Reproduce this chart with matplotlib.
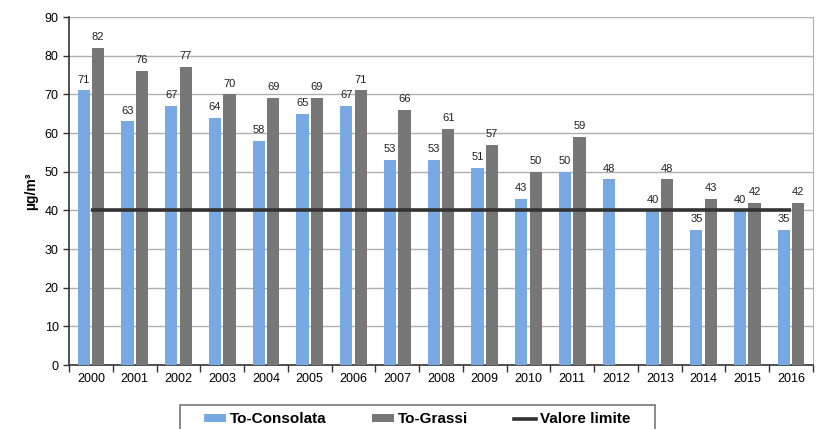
import matplotlib
matplotlib.use("Agg")
import matplotlib.pyplot as plt
import numpy as np
from matplotlib.patches import Patch, Rectangle
from matplotlib.lines import Line2D

plt.rcParams['font.family'] = ['Liberation Sans', 'DejaVu Sans']

years = ['2000', '2001', '2002', '2003', '2004', '2005', '2006', '2007', '2008',
         '2009', '2010', '2011', '2012', '2013', '2014', '2015', '2016']
consolata = [71, 63, 67, 64, 58, 65, 67, 53, 53, 51, 43, 50, 48, 40, 35, 40, 35]
grassi = [82, 76, 77, 70, 69, 69, 71, 66, 61, 57, 50, 59, None, 48, 43, 42, 42]
limit_value = 40

c_blue = '#79a9e3'
c_grey = '#777777'
c_line = '#333333'

W, H = 821, 429
fig = plt.figure(figsize=(W/100, H/100), dpi=100)
ax = fig.add_axes([69/W, (H-365)/H, (813-69)/W, (365-17)/H])

x = np.arange(len(years))
w = 0.28
gap = 0.025
for i in range(len(years)):
    v = consolata[i]
    if v is not None:
        ax.bar(x[i] - w/2 - gap, v, width=w, color=c_blue, zorder=3)
        ax.text(x[i] - w/2 - gap, v + 1.5, str(v), ha='center', va='bottom', fontsize=8, color='#222222', zorder=4)
    g = grassi[i]
    if g is not None:
        ax.bar(x[i] + w/2 + gap, g, width=w, color=c_grey, zorder=3)
        ax.text(x[i] + w/2 + gap, g + 1.5, str(g), ha='center', va='bottom', fontsize=8, color='#222222', zorder=4)

ax.plot([x[0], x[-1]], [limit_value, limit_value], color=c_line, lw=2.6, zorder=5, solid_capstyle='butt')

ax.set_xlim(-0.5, len(years) - 0.5)
ax.set_ylim(0, 90)
ax.set_yticks(range(0, 91, 10))
ax.yaxis.grid(True, color='#b0b0b0', lw=1.0, zorder=0)
ax.set_axisbelow(True)

ax.set_xticks(x)
ax.set_xticklabels(years, fontsize=9)
ax.set_xticks(np.arange(-0.5, len(years), 1), minor=True)
ax.tick_params(axis='x', which='major', length=0, pad=6)
ax.tick_params(axis='x', which='minor', length=5, color='#333333', width=1)
ax.tick_params(axis='y', labelsize=9, length=4, color='#333333', width=1)

for s in ['left', 'bottom']:
    ax.spines[s].set_color('#333333')
    ax.spines[s].set_linewidth(1.2)
ax.spines['top'].set_visible(False)
ax.spines['right'].set_color('#b0b0b0')

ax.set_ylabel('µg/m³', fontsize=10, fontweight='bold', labelpad=5)

handles = [Patch(facecolor=c_blue, label='To-Consolata'),
           Patch(facecolor=c_grey, label='To-Grassi'),
           Line2D([0], [0], color=c_line, lw=2.6, label='Valore limite')]
leg = fig.legend(handles=handles, loc='upper center', bbox_to_anchor=(417/W, (H-407)/H),
                 ncol=3, frameon=False,
                 prop={'weight': 'bold', 'size': 11}, columnspacing=3.0, handlelength=1.45,
                 handleheight=0.45, handletextpad=0.25, borderpad=0.35, borderaxespad=0)
fig.patches.append(Rectangle((180/W, (H-436)/H), (655-180)/W, 31/H, transform=fig.transFigure,
                             facecolor='none', edgecolor='#777777', lw=1.2, clip_on=False))

fig.savefig('out.png', dpi=100)
